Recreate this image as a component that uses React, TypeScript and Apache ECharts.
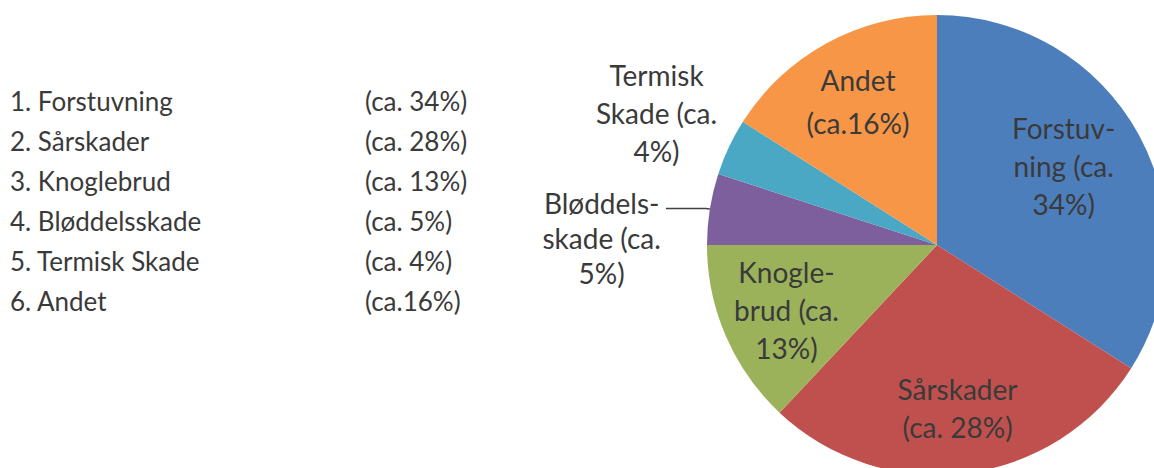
import { useEffect, useRef } from "react";
import * as echarts from "echarts";

const categories = ["Forstuvning", "Sårskader", "Knoglebrud", "Bløddelsskade", "Termisk Skade", "Andet"];
const values = [34, 28, 13, 5, 4, 16];
const listPercentLabels = ["(ca. 34%)", "(ca. 28%)", "(ca. 13%)", "(ca. 5%)", "(ca. 4%)", "(ca.16%)"];
const sliceLabels = [
  "Forstuv-\nning (ca.\n34%)",
  "Sårskader\n(ca. 28%)",
  "Knogle-\nbrud (ca.\n13%)",
  "Bløddels-\nskade (ca.\n5%)",
  "Termisk\nSkade (ca.\n4%)",
  "Andet\n(ca.16%)",
];
const colors = ["#4d7ebc", "#c0504d", "#9bb25a", "#7d5f9e", "#4ba8c4", "#f79646"];
const innerLabelIdx = [0, 1, 2, 5];
const outerLabelIdx = [4];
const leaderLabelIdx = [3];

const FONT = "Lato, 'Open Sans', sans-serif";
const TEXT = "#3a3a3a";
const CENTER = [937, 245];
const R = 230;

const labelTweaks: Record<number, any> = {
  0: { padding: [24, 34, 0, 0] },
  2: { padding: [0, 0, 12, 0] },
  5: { lineHeight: 43, padding: [0, 0, 10, 0] },
};

export default function App() {
  const ref = useRef<HTMLDivElement>(null);
  useEffect(() => {
    document.body.style.margin = "0";
    const chart = echarts.init(ref.current!, null, { renderer: "svg" });
    const labelBase = {
      fontFamily: FONT,
      fontSize: 28,
      lineHeight: 38,
      color: TEXT,
    };
    const option: any = {
      animation: false,
      backgroundColor: "#ffffff",
      graphic: categories.flatMap((name, i) => [
        {
          type: "text",
          x: 10,
          y: 101 + 40 * i,
          style: {
            text: `${i + 1}. ${name}`,
            fontFamily: FONT,
            fontSize: 26,
            fill: TEXT,
            verticalAlign: "middle",
          },
        },
        {
          type: "text",
          x: 365,
          y: 101 + 40 * i,
          style: {
            text: listPercentLabels[i],
            fontFamily: FONT,
            fontSize: 26,
            fill: TEXT,
            verticalAlign: "middle",
          },
        },
      ]),
      series: [
        {
          type: "pie",
          center: CENTER,
          radius: [0, R],
          startAngle: 90,
          clockwise: true,
          avoidLabelOverlap: false,
          silent: true,
          emphasis: { disabled: true },
          label: { show: false },
          labelLine: { show: false },
          data: categories.map((name, i) => ({
            name,
            value: values[i],
            itemStyle: { color: colors[i] },
            ...(leaderLabelIdx.includes(i)
              ? {
                  label: {
                    show: true,
                    position: "outside",
                    distanceToLabelLine: 5,
                    padding: [60, 0, 0, 0],
                    formatter: sliceLabels[i]
                      .split("\n")
                      .map((l) => `{c|${l}}`)
                      .join("\n"),
                    rich: { c: { ...labelBase, align: "center", lineHeight: 35 } },
                  },
                  labelLine: {
                    show: true,
                    length: 4,
                    length2: 40,
                    smooth: false,
                    lineStyle: { color: "#404040", width: 1.5 },
                  },
                }
              : {}),
          })),
        },
        {
          type: "pie",
          center: CENTER,
          radius: [92, R],
          startAngle: 90,
          clockwise: true,
          avoidLabelOverlap: false,
          silent: true,
          emphasis: { disabled: true },
          itemStyle: { color: "rgba(0,0,0,0)" },
          labelLine: { show: false },
          label: { show: false },
          data: categories.map((name, i) => ({
            name,
            value: values[i],
            label: innerLabelIdx.includes(i)
              ? {
                  show: true,
                  position: "inside",
                  formatter: sliceLabels[i],
                  ...labelBase,
                  ...(labelTweaks[i] || {}),
                }
              : { show: false },
          })),
        },
        {
          type: "pie",
          center: CENTER,
          radius: [234, 380],
          startAngle: 90,
          clockwise: true,
          avoidLabelOverlap: false,
          silent: true,
          emphasis: { disabled: true },
          itemStyle: { color: "rgba(0,0,0,0)" },
          labelLine: { show: false },
          label: { show: false },
          data: categories.map((name, i) => ({
            name,
            value: values[i],
            label: outerLabelIdx.includes(i)
              ? {
                  show: true,
                  position: "inside",
                  formatter: sliceLabels[i],
                  ...labelBase,
                  padding: [0, 0, 4, 0],
                }
              : { show: false },
          })),
        },
      ],
    };
    chart.setOption(option);
    return () => chart.dispose();
  }, []);
  return (
    <div
      ref={ref}
      style={{ position: "absolute", left: 0, top: 0, width: 1154, height: 468, background: "#fff" }}
    />
  );
}
